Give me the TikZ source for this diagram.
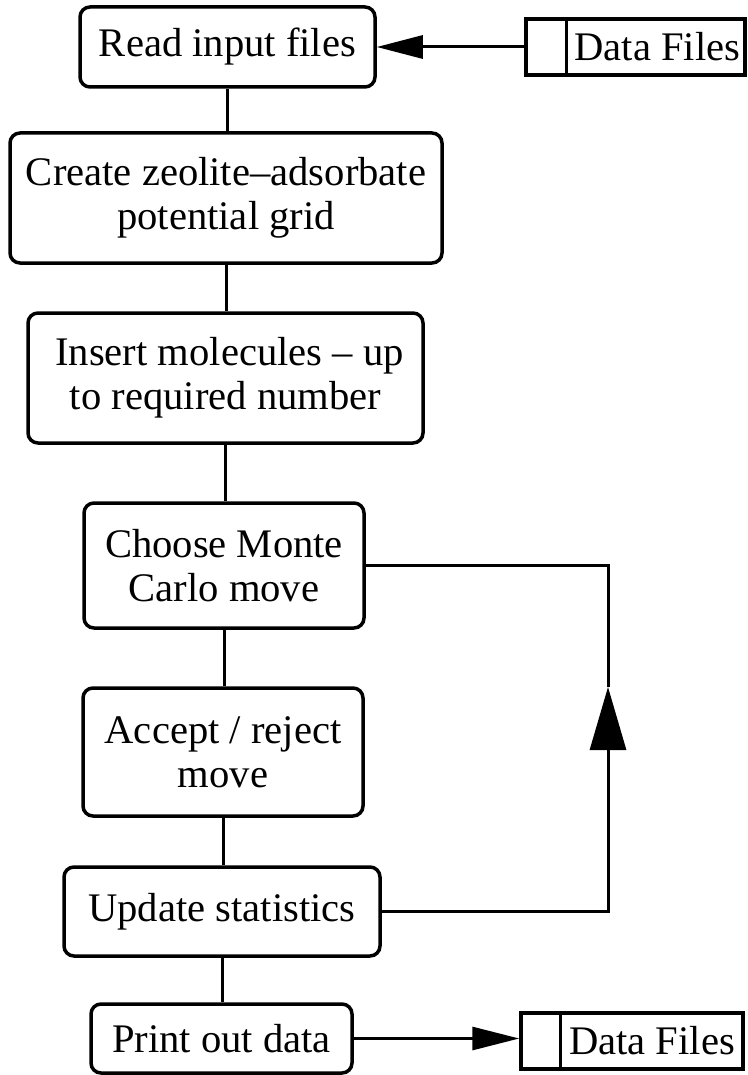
\documentclass[tikz,border=0pt]{standalone}
\usepackage{fontspec}
\setmainfont{Liberation Serif}
\usetikzlibrary{arrows.meta,calc}
\begin{document}
\begin{tikzpicture}[x=1pt,y=-1pt,
  line width=3.5pt,
  every node/.style={font=\fontsize{40.6}{44}\selectfont},
  proc/.style={draw, rounded corners=10pt, align=center, inner sep=0pt},
  store/.style={draw, inner sep=0pt, minimum height=56pt},
  conn/.style={line width=3pt},
]
\useasboundingbox (0,0) rectangle (747,1075);
\node[proc, minimum width=295pt, minimum height=80pt] (read) at (227.5,47) {Read input files};
\node[proc, minimum width=432pt, minimum height=130pt] (create) at (226,198) {Create zeolite--adsorbate\\potential grid};
\node[proc, minimum width=395pt, minimum height=130pt] (insert) at (225.5,378) {\hspace*{8pt}Insert molecules -- up\\to required number};
\node[proc, minimum width=280pt, minimum height=125pt] (choose) at (224,565.5) {Choose Monte\\Carlo move};
\node[proc, minimum width=280pt, minimum height=128pt] (accept) at (223,752) {Accept / reject\\move};
\node[proc, minimum width=316pt, minimum height=89pt] (update) at (222,911.5) {Update statistics};
\node[proc, minimum width=261pt, minimum height=69pt] (print) at (221.5,1038.5) {Print out data};

\node[store, minimum width=219pt] (din) at (635.5,47) {\hspace*{44pt}Data Files};
\node[store, minimum width=222pt] (dout) at (632,1041) {\hspace*{40pt}Data Files};
\draw ($(din.north west)+(42,0)$) -- ($(din.south west)+(42,0)$);
\draw ($(dout.north west)+(41,0)$) -- ($(dout.south west)+(41,0)$);

\draw[conn] (read.south) -- (read.south |- create.north);
\draw[conn] (create.south) -- (create.south |- insert.north);
\draw[conn] (insert.south) -- (insert.south |- choose.north);
\draw[conn] (choose.south) -- (choose.south |- accept.north);
\draw[conn] (accept.south) -- (accept.south |- update.north);
\draw[conn] (update.south) -- (update.south |- print.north);

\draw[conn, -{Triangle[length=46pt,width=23pt]}] (din.west) -- (read.east);
\draw[conn, -{Triangle[length=47pt,width=23pt]}] (print.east) -- (print.east -| dout.west);

\coordinate (tip) at (608,687);
\draw[conn, -{Triangle[length=63pt,width=36pt]}] (update.east) -| (tip);
\draw[conn] (tip) |- (choose.east);
\end{tikzpicture}
\end{document}
